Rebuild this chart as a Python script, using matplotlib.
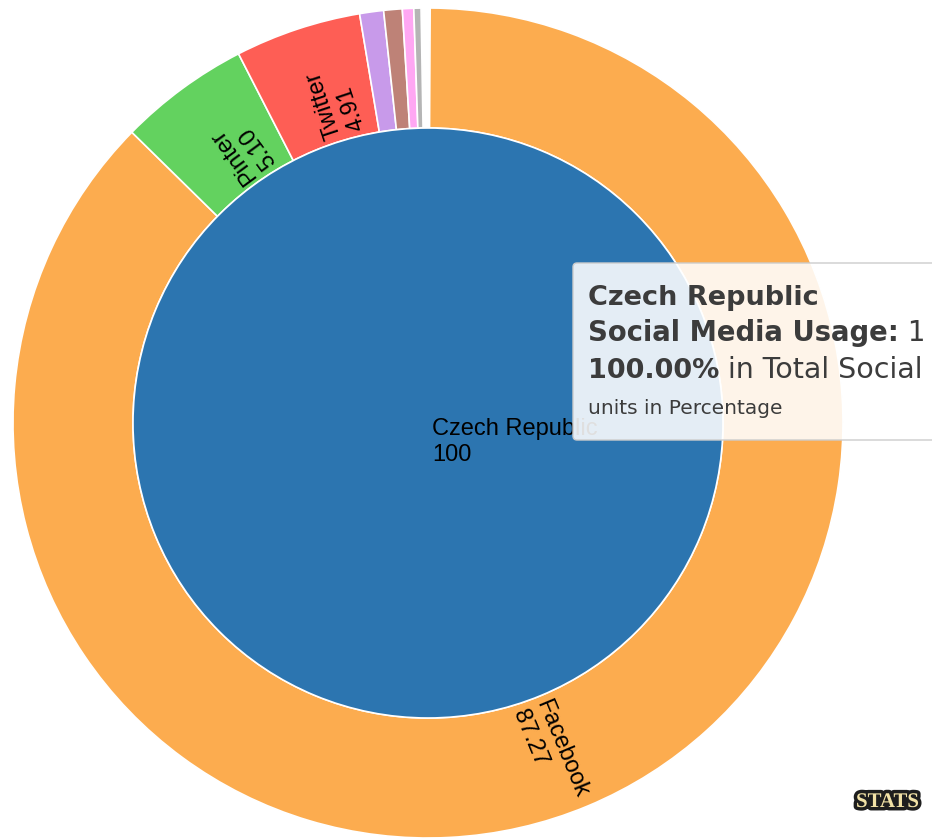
import matplotlib
matplotlib.use('Agg')
import matplotlib.pyplot as plt
import matplotlib.patheffects as pe
from matplotlib.patches import FancyBboxPatch
import numpy as np

# data
country = 'Czech Republic'
country_total = 100
platforms = ['Facebook', 'Pinterest', 'Twitter', 'Instagram', 'YouTube', 'Tumblr', 'reddit']
shares = [87.27, 5.10, 4.91, 0.93, 0.72, 0.44, 0.28]
ring_colors = ['#FCAC4F', '#63D25F', '#FE5E55', '#C89AEA', '#BE8277', '#FFA7F3', '#B5B5B5']
center_color = '#2C75B0'
# text actually visible inside each sector (Pinterest gets clipped in the original)
shown_text = {'Facebook': 'Facebook', 'Pinterest': 'Pinter', 'Twitter': 'Twitter'}

W, H = 932, 838
fig = plt.figure(figsize=(W / 100, H / 100), dpi=100)
ax = fig.add_axes([0, 0, 1, 1])

cx, cy = 428, H - 423
R_out, R_in = 415, 295

# outer ring
wedges, _ = ax.pie([v / 100 for v in shares], colors=ring_colors, radius=R_out,
                   center=(cx, cy), startangle=89.7, counterclock=False, normalize=False,
                   wedgeprops=dict(width=R_out - R_in, edgecolor='white', linewidth=1.2))

# inner circle (country)
ax.pie([country_total], colors=[center_color], radius=R_in, center=(cx, cy),
       wedgeprops=dict(edgecolor='white', linewidth=1.2))

ax.set_xlim(0, W)
ax.set_ylim(0, H)
ax.set_aspect('equal')
ax.axis('off')

# radial labels in the ring: first line sits on the sector's middle ray
for w, name, val in zip(wedges, platforms, shares):
    if name not in shown_text:
        continue
    th = (w.theta1 + w.theta2) / 2
    mid = np.deg2rad(th)
    r = R_in + 5
    x = cx + r * np.cos(mid) + 14 * np.sin(mid)
    y = cy + r * np.sin(mid) - 14 * np.cos(mid)
    ax.text(x, y, f'{shown_text[name]}\n{val:.2f}',
            rotation=th, rotation_mode='anchor', ha='left', va='center',
            multialignment='left', fontsize=17, family='Liberation Sans', color='black')

# center label
ax.text(432, H - 442, f'{country}\n{country_total}', ha='left', va='center',
        multialignment='left', fontsize=17, family='Liberation Sans', color='black')

# tooltip
box = FancyBboxPatch((573, H - 440), 420, 177, boxstyle='round,pad=0,rounding_size=4',
                     fc=(1, 1, 1, 0.88), ec='#cccccc', lw=1, zorder=5)
ax.add_patch(box)

renderer = fig.canvas.get_renderer()


def rich_line(parts, x, y):
    for txt, weight, size in parts:
        t = ax.text(x, y, txt, fontsize=size, fontweight=weight, color='#3c3c3c',
                    ha='left', va='baseline', zorder=6, family='DejaVu Sans')
        bb = t.get_window_extent(renderer)
        x = ax.transData.inverted().transform((bb.x1, bb.y0))[0]


# only the part of the tooltip that is inside the picture
rich_line([(country, 'bold', 19.5)], 588, H - 305)
rich_line([('Social Media Usage:', 'bold', 19.8), (' 1', 'normal', 20)], 588, H - 341)
rich_line([('100.00%', 'bold', 19.5), (' in Total Social', 'normal', 20.5)], 588, H - 378)
rich_line([('units in Percentage', 'normal', 14.5)], 588, H - 414)

# watermark
ax.text(856, H - 802, 'STATS', fontsize=15, fontweight='bold',
        color='#F2E2A6', ha='left', va='center', family='Liberation Serif',
        path_effects=[pe.withStroke(linewidth=5, foreground='#1e1e1e')])

fig.savefig('out.png', dpi=100)
